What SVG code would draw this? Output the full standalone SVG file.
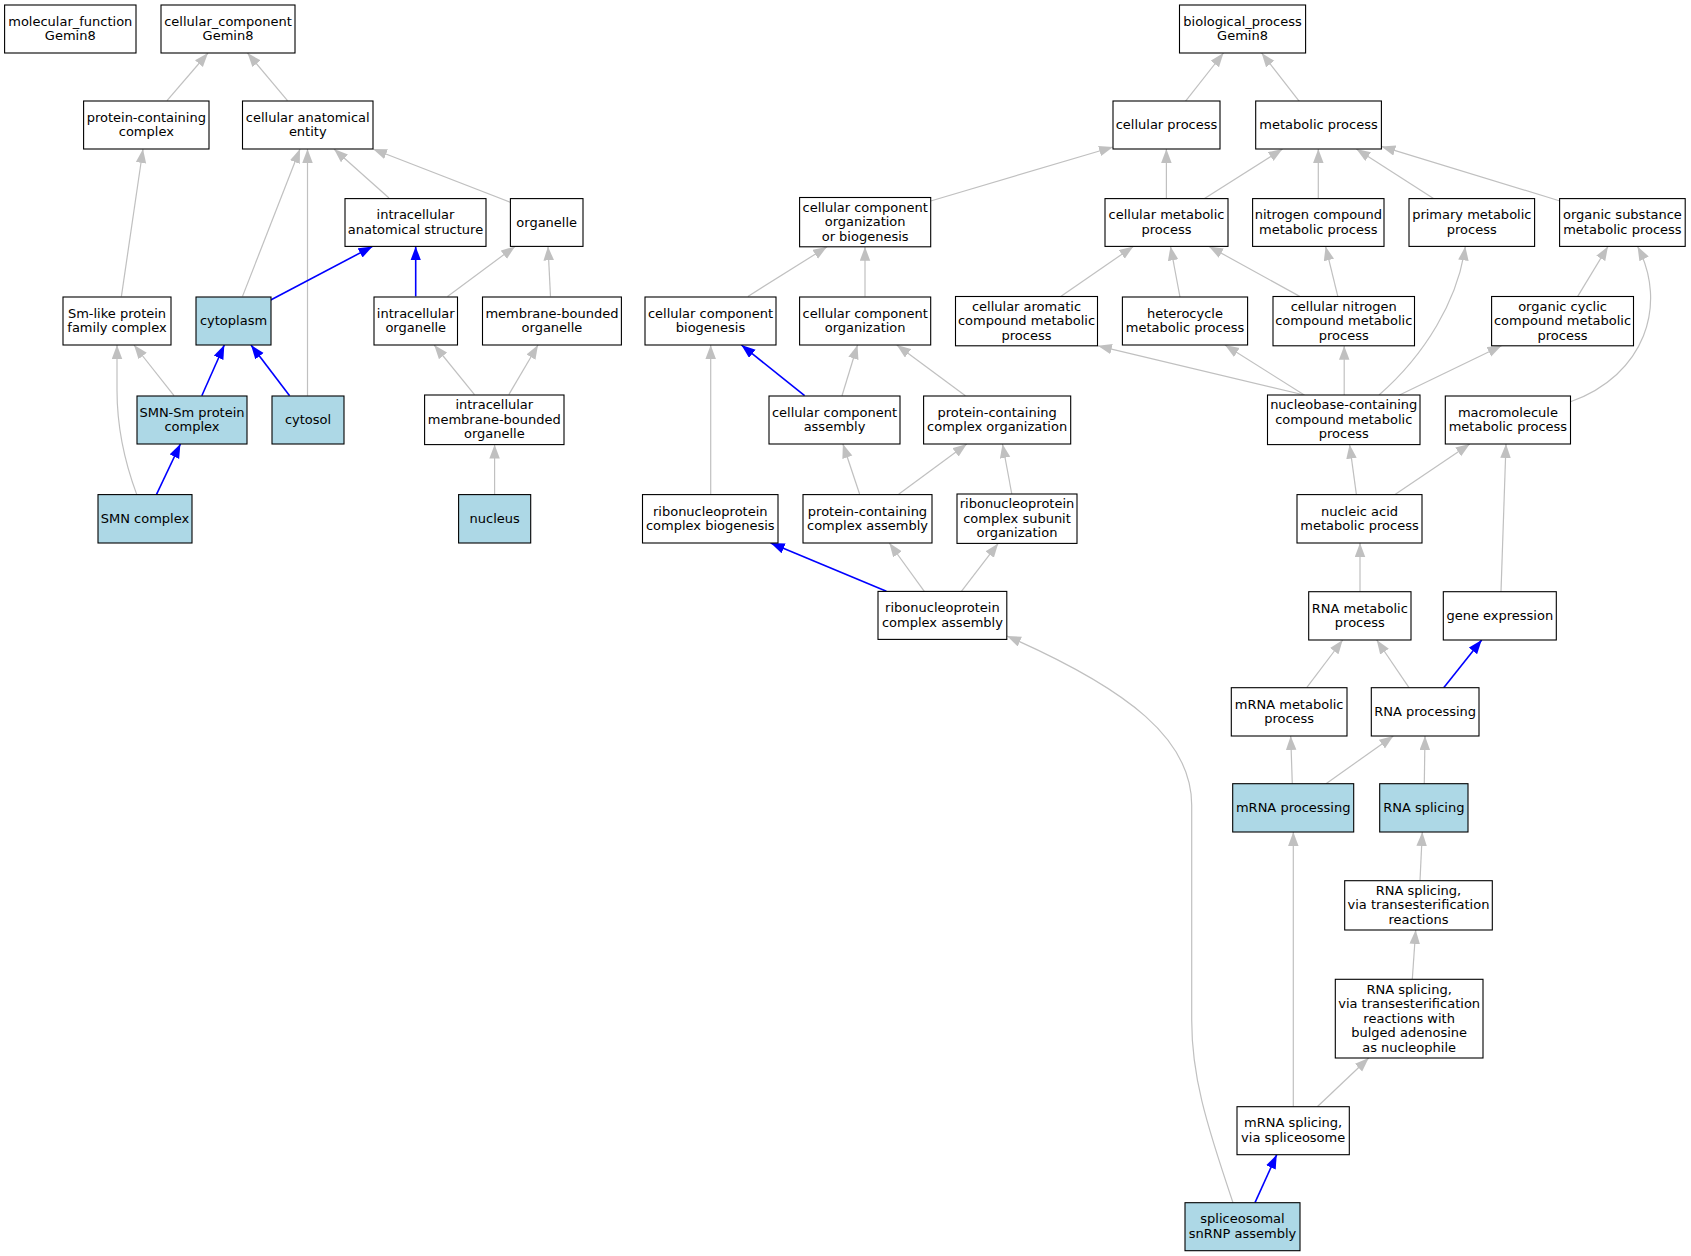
<svg xmlns="http://www.w3.org/2000/svg" width="1691" height="1256" viewBox="0 0 1691 1256">
<style>
.n rect{fill:#ffffff;stroke:#000000;stroke-width:1.1}
.n.hl rect{fill:#add8e6}
.n text{font-family:"DejaVu Sans","Liberation Sans",sans-serif;font-size:13px;fill:#000000;text-anchor:middle}
.e{fill:none;stroke:#c0c0c0;stroke-width:1.2;marker-end:url(#ag)}
.b{fill:none;stroke:#0000ff;stroke-width:1.6;marker-end:url(#ab)}
</style>
<defs>
<marker id="ag" markerUnits="userSpaceOnUse" markerWidth="14" markerHeight="11" refX="14" refY="5.25" orient="auto"><path d="M0,0 L14,5.25 L0,10.5 z" fill="#c0c0c0"/></marker>
<marker id="ab" markerUnits="userSpaceOnUse" markerWidth="14" markerHeight="11" refX="14" refY="5.25" orient="auto"><path d="M0,0 L14,5.25 L0,10.5 z" fill="#0000ff"/></marker>
</defs>
<rect x="0" y="0" width="1691" height="1256" fill="#ffffff"/>
<g id="edges">
<path class="e" d="M167,100.7 L208,53"/>
<path class="e" d="M287.5,100.7 L247.5,53"/>
<path class="e" d="M389,198 L334,149"/>
<path class="e" d="M510.7,202.5 L373,149"/>
<path class="e" d="M121.4,296.4 L143,149"/>
<path class="e" d="M242.5,296.4 L300,149"/>
<path class="e" d="M307.5,395.7 L307.5,149"/>
<path class="b" d="M270.7,300 L372.5,246.4"/>
<path class="b" d="M415.7,296.4 L415.7,246.4"/>
<path class="e" d="M447.5,296.4 L515,246.4"/>
<path class="e" d="M550.5,296.4 L548,246.4"/>
<path class="e" d="M174,395.7 L134,345"/>
<path class="e" d="M136.8,494.6 C122,455 117,420 117,390 L117,345"/>
<path class="b" d="M201.8,395.7 L224.3,345"/>
<path class="b" d="M289.6,395.7 L251,345"/>
<path class="b" d="M156.4,494.6 L180.4,444"/>
<path class="e" d="M474.5,394.6 L434.2,345"/>
<path class="e" d="M508.8,394.6 L538,345"/>
<path class="e" d="M494.6,494.6 L494.6,444.6"/>
<path class="e" d="M1185.4,101.4 L1223.5,53"/>
<path class="e" d="M1299.3,101.4 L1261.6,53"/>
<path class="e" d="M930.7,201 L1113,147"/>
<path class="e" d="M1166.4,198.6 L1166.4,149"/>
<path class="e" d="M1204.5,198.6 L1282.5,149"/>
<path class="e" d="M1318.3,198.6 L1318.3,149"/>
<path class="e" d="M1433.5,198.6 L1356.4,149"/>
<path class="e" d="M1560,201 L1381.4,146.4"/>
<path class="e" d="M747.9,296.4 L827,246.8"/>
<path class="e" d="M865,296.4 L865,246.8"/>
<path class="e" d="M1060.7,296.4 L1133.3,246.4"/>
<path class="e" d="M1180,297 L1170.5,246.4"/>
<path class="e" d="M1299.7,296.4 L1209,246.4"/>
<path class="e" d="M1337.8,296.4 L1325.6,246.4"/>
<path class="e" d="M1577.7,296.4 L1608,246.4"/>
<path class="e" d="M710.7,494.6 L710.7,345"/>
<path class="b" d="M804.6,395.7 L741.4,345"/>
<path class="e" d="M842,395.7 L857.5,345"/>
<path class="e" d="M965.4,395.7 L896.8,345"/>
<path class="e" d="M1304.3,395 L1097.9,345.8"/>
<path class="e" d="M1304.3,395 L1225,345"/>
<path class="e" d="M1344.2,395 L1344.2,345.8"/>
<path class="e" d="M1379,395 C1425,355 1458,300 1465.3,246.4"/>
<path class="e" d="M1399.5,395 L1501.5,345.8"/>
<path class="e" d="M1570.5,401.8 C1645,375 1668,305 1637.6,246.4"/>
<path class="e" d="M859.6,494 L842.9,444"/>
<path class="e" d="M898.6,494.3 L966.8,444"/>
<path class="e" d="M1011.8,494 L1002.5,444"/>
<path class="e" d="M1356.4,494.6 L1349.6,444.6"/>
<path class="e" d="M1395,494.6 L1469.8,444"/>
<path class="e" d="M1501,591.7 L1506,444"/>
<path class="b" d="M886.4,591.3 L770.7,543"/>
<path class="e" d="M924.3,591.3 L889.3,543"/>
<path class="e" d="M961.4,591.3 L998.2,543.4"/>
<path class="e" d="M1360,591.7 L1360,543"/>
<path class="e" d="M1306.7,687.7 L1342.7,640"/>
<path class="e" d="M1409,687.7 L1376.7,640"/>
<path class="b" d="M1443.7,687.7 L1481.7,640"/>
<path class="e" d="M1292.3,783.7 L1290.7,736"/>
<path class="e" d="M1326,783.7 L1393.3,736"/>
<path class="e" d="M1424.3,783.7 L1425,736"/>
<path class="e" d="M1420,880.7 L1422.3,832"/>
<path class="e" d="M1412.3,979.3 L1415.7,930"/>
<path class="e" d="M1293.3,1106.7 L1293.3,832"/>
<path class="e" d="M1317.3,1106.7 L1368.7,1058"/>
<path class="b" d="M1255,1202.7 L1276.7,1154.7"/>
<path class="e" d="M1233,1202.7 C1205,1120 1191.7,1075 1191.7,1020 L1191.7,805 C1191.7,740 1130,690 1007,636"/>
</g>
<g id="mf" class="n"><rect x="4.6" y="5" width="131.4" height="48"/><text x="70.3" y="25.75">molecular_function</text><text x="70.3" y="40.25">Gemin8</text></g>
<g id="cc" class="n"><rect x="161" y="5" width="134" height="48"/><text x="228" y="25.75">cellular_component</text><text x="228" y="40.25">Gemin8</text></g>
<g id="pcc" class="n"><rect x="83.6" y="101" width="125.4" height="48"/><text x="146.3" y="121.75">protein-containing</text><text x="146.3" y="136.25">complex</text></g>
<g id="cae" class="n"><rect x="242.5" y="101" width="130.5" height="48"/><text x="307.75" y="121.75">cellular anatomical</text><text x="307.75" y="136.25">entity</text></g>
<g id="ias" class="n"><rect x="345" y="198.6" width="141" height="47.8"/><text x="415.5" y="219.25">intracellular</text><text x="415.5" y="233.75">anatomical structure</text></g>
<g id="org" class="n"><rect x="510.4" y="198.6" width="72.6" height="47.8"/><text x="546.7" y="226.5">organelle</text></g>
<g id="smlike" class="n"><rect x="63" y="297" width="108" height="48"/><text x="117" y="317.75">Sm-like protein</text><text x="117" y="332.25">family complex</text></g>
<g id="cyto" class="n hl"><rect x="196" y="297" width="75" height="48"/><text x="233.5" y="325">cytoplasm</text></g>
<g id="io" class="n"><rect x="374" y="297" width="83.5" height="48"/><text x="415.75" y="317.75">intracellular</text><text x="415.75" y="332.25">organelle</text></g>
<g id="mbo" class="n"><rect x="482.5" y="297" width="138.9" height="48"/><text x="551.95" y="317.75">membrane-bounded</text><text x="551.95" y="332.25">organelle</text></g>
<g id="smnsm" class="n hl"><rect x="137" y="396" width="110" height="48"/><text x="192" y="416.75">SMN-Sm protein</text><text x="192" y="431.25">complex</text></g>
<g id="cytosol" class="n hl"><rect x="272" y="396" width="72" height="48"/><text x="308" y="424">cytosol</text></g>
<g id="imbo" class="n"><rect x="424.6" y="395" width="139.4" height="49.6"/><text x="494.3" y="409.3">intracellular</text><text x="494.3" y="423.8">membrane-bounded</text><text x="494.3" y="438.3">organelle</text></g>
<g id="smn" class="n hl"><rect x="98" y="494.6" width="94" height="48.4"/><text x="145" y="522.8">SMN complex</text></g>
<g id="nucleus" class="n hl"><rect x="458.6" y="494.6" width="72.1" height="48.4"/><text x="494.65" y="522.8">nucleus</text></g>
<g id="bp" class="n"><rect x="1179.5" y="5" width="126.1" height="48"/><text x="1242.55" y="25.75">biological_process</text><text x="1242.55" y="40.25">Gemin8</text></g>
<g id="cp" class="n"><rect x="1113" y="101" width="107" height="48"/><text x="1166.5" y="129">cellular process</text></g>
<g id="mp" class="n"><rect x="1255.7" y="101" width="125.7" height="48"/><text x="1318.55" y="129">metabolic process</text></g>
<g id="ccob" class="n"><rect x="799.6" y="197.5" width="131.1" height="49.3"/><text x="865.15" y="211.65">cellular component</text><text x="865.15" y="226.15">organization</text><text x="865.15" y="240.65">or biogenesis</text></g>
<g id="cmp" class="n"><rect x="1105" y="198.6" width="123" height="47.8"/><text x="1166.5" y="219.25">cellular metabolic</text><text x="1166.5" y="233.75">process</text></g>
<g id="ncmp" class="n"><rect x="1252.6" y="198.6" width="131.4" height="47.8"/><text x="1318.3" y="219.25">nitrogen compound</text><text x="1318.3" y="233.75">metabolic process</text></g>
<g id="pmp" class="n"><rect x="1409" y="198.6" width="125.6" height="47.8"/><text x="1471.8" y="219.25">primary metabolic</text><text x="1471.8" y="233.75">process</text></g>
<g id="osmp" class="n"><rect x="1559.6" y="198.6" width="125.6" height="47.8"/><text x="1622.4" y="219.25">organic substance</text><text x="1622.4" y="233.75">metabolic process</text></g>
<g id="ccb" class="n"><rect x="645" y="297" width="131" height="48"/><text x="710.5" y="317.75">cellular component</text><text x="710.5" y="332.25">biogenesis</text></g>
<g id="cco" class="n"><rect x="799.6" y="297" width="131.1" height="48"/><text x="865.15" y="317.75">cellular component</text><text x="865.15" y="332.25">organization</text></g>
<g id="cacmp" class="n"><rect x="955.5" y="296.5" width="142" height="49.3"/><text x="1026.5" y="310.65">cellular aromatic</text><text x="1026.5" y="325.15">compound metabolic</text><text x="1026.5" y="339.65">process</text></g>
<g id="hmp" class="n"><rect x="1122.4" y="297" width="125.2" height="48"/><text x="1185" y="317.75">heterocycle</text><text x="1185" y="332.25">metabolic process</text></g>
<g id="cncmp" class="n"><rect x="1273" y="296.5" width="141.5" height="49.3"/><text x="1343.75" y="310.65">cellular nitrogen</text><text x="1343.75" y="325.15">compound metabolic</text><text x="1343.75" y="339.65">process</text></g>
<g id="occmp" class="n"><rect x="1491.6" y="296.5" width="141.9" height="49.3"/><text x="1562.55" y="310.65">organic cyclic</text><text x="1562.55" y="325.15">compound metabolic</text><text x="1562.55" y="339.65">process</text></g>
<g id="cca" class="n"><rect x="769" y="396" width="131" height="48"/><text x="834.5" y="416.75">cellular component</text><text x="834.5" y="431.25">assembly</text></g>
<g id="pcco" class="n"><rect x="923.6" y="396" width="147.1" height="48"/><text x="997.15" y="416.75">protein-containing</text><text x="997.15" y="431.25">complex organization</text></g>
<g id="nccmp" class="n"><rect x="1267.5" y="395" width="152.5" height="49.6"/><text x="1343.75" y="409.3">nucleobase-containing</text><text x="1343.75" y="423.8">compound metabolic</text><text x="1343.75" y="438.3">process</text></g>
<g id="mmp" class="n"><rect x="1445.3" y="396" width="125.2" height="48"/><text x="1507.9" y="416.75">macromolecule</text><text x="1507.9" y="431.25">metabolic process</text></g>
<g id="rcb" class="n"><rect x="642.5" y="494.6" width="135.5" height="48.4"/><text x="710.25" y="515.55">ribonucleoprotein</text><text x="710.25" y="530.05">complex biogenesis</text></g>
<g id="pcca" class="n"><rect x="803" y="494.6" width="129" height="48.4"/><text x="867.5" y="515.55">protein-containing</text><text x="867.5" y="530.05">complex assembly</text></g>
<g id="rcso" class="n"><rect x="957" y="494" width="120" height="49.4"/><text x="1017" y="508.2">ribonucleoprotein</text><text x="1017" y="522.7">complex subunit</text><text x="1017" y="537.2">organization</text></g>
<g id="namp" class="n"><rect x="1297" y="494.6" width="125" height="48.4"/><text x="1359.5" y="515.55">nucleic acid</text><text x="1359.5" y="530.05">metabolic process</text></g>
<g id="rca" class="n"><rect x="878" y="591.4" width="128.8" height="48"/><text x="942.4" y="612.15">ribonucleoprotein</text><text x="942.4" y="626.65">complex assembly</text></g>
<g id="rnamp" class="n"><rect x="1308.7" y="591.7" width="102.3" height="48.3"/><text x="1359.85" y="612.6">RNA metabolic</text><text x="1359.85" y="627.1">process</text></g>
<g id="ge" class="n"><rect x="1443.3" y="591.7" width="113" height="48.3"/><text x="1499.8" y="619.85">gene expression</text></g>
<g id="mrnamp" class="n"><rect x="1231.3" y="687.7" width="115.7" height="48.3"/><text x="1289.15" y="708.6">mRNA metabolic</text><text x="1289.15" y="723.1">process</text></g>
<g id="rnap" class="n"><rect x="1371.3" y="687.7" width="107.7" height="48.3"/><text x="1425.15" y="715.85">RNA processing</text></g>
<g id="mrnap" class="n hl"><rect x="1232.7" y="783.7" width="121" height="48.3"/><text x="1293.2" y="811.85">mRNA processing</text></g>
<g id="rnas" class="n hl"><rect x="1379.7" y="783.7" width="88.3" height="48.3"/><text x="1423.85" y="811.85">RNA splicing</text></g>
<g id="rnast" class="n"><rect x="1344.7" y="880.7" width="147.6" height="49.3"/><text x="1418.5" y="894.85">RNA splicing,</text><text x="1418.5" y="909.35">via transesterification</text><text x="1418.5" y="923.85">reactions</text></g>
<g id="rnastb" class="n"><rect x="1335.3" y="979.3" width="147.7" height="78.7"/><text x="1409.15" y="993.65">RNA splicing,</text><text x="1409.15" y="1008.15">via transesterification</text><text x="1409.15" y="1022.65">reactions with</text><text x="1409.15" y="1037.15">bulged adenosine</text><text x="1409.15" y="1051.65">as nucleophile</text></g>
<g id="mrnas" class="n"><rect x="1237" y="1106.7" width="112.3" height="48"/><text x="1293.15" y="1127.45">mRNA splicing,</text><text x="1293.15" y="1141.95">via spliceosome</text></g>
<g id="snrnp" class="n hl"><rect x="1185" y="1202.7" width="115" height="48"/><text x="1242.5" y="1223.45">spliceosomal</text><text x="1242.5" y="1237.95">snRNP assembly</text></g>
</svg>
